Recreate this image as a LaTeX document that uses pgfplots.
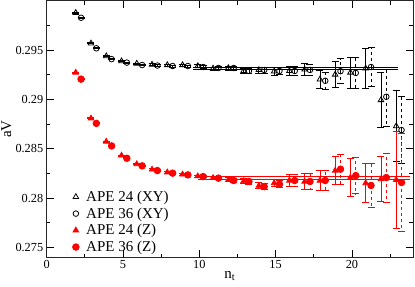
\documentclass[border=0pt]{standalone}
\usepackage{fontspec}
\setmainfont{Liberation Serif}
\usepackage{pgfplots}
\pgfplotsset{compat=1.18}
\usepackage{pgfplotstable}

\pgfplotstableread{
x y e
1.9 0.2988 0.00005
2.9 0.2957 0.00005
3.9 0.2944 0.00005
4.9 0.2939 0.00005
5.9 0.29365 0.00005
6.9 0.29355 0.00008
7.9 0.2935 0.0001
8.9 0.2935 0.0001
9.9 0.2934 0.00012
10.9 0.29315 0.00015
11.9 0.2932 0.0002
12.9 0.2929 0.00025
13.9 0.2930 0.0003
14.9 0.29285 0.0004
15.9 0.2929 0.0005
16.9 0.29305 0.0006
17.9 0.29204 0.00094
18.9 0.29254 0.0013
19.9 0.29274 0.00157
20.9 0.29315 0.0020
21.9 0.28995 0.0028
22.9 0.2873 0.0036
}\triXY

\pgfplotstableread{
x y e
2.25 0.2983 0.00005
3.25 0.2952 0.00005
4.25 0.2941 0.00005
5.25 0.29375 0.00005
6.25 0.2935 0.00005
7.25 0.29345 0.00008
8.25 0.2934 0.0001
9.25 0.2934 0.0001
10.25 0.2933 0.00012
11.25 0.2932 0.00015
12.25 0.2932 0.0002
13.25 0.2929 0.00025
14.25 0.2930 0.0003
15.25 0.2929 0.0004
16.25 0.2929 0.0005
17.25 0.2930 0.0006
18.25 0.2919 0.0009
19.25 0.29288 0.00128
20.25 0.2927 0.0016
21.25 0.2933 0.0020
22.25 0.29028 0.0030
23.25 0.2869 0.0034
}\cirXY

\pgfplotstableread{
x y e
1.9 0.29274 0.00005
2.9 0.28809 0.00005
3.9 0.28573 0.00005
4.9 0.28432 0.00005
5.9 0.28345 0.00005
6.9 0.28290 0.00008
7.9 0.28262 0.0001
8.9 0.28240 0.0001
9.9 0.28222 0.00012
10.9 0.28205 0.00015
11.9 0.28185 0.0002
12.9 0.28172 0.00025
13.9 0.28125 0.0003
14.9 0.28152 0.00035
15.9 0.28178 0.0006
16.9 0.28168 0.0008
17.9 0.28178 0.0010
18.9 0.28279 0.0014
19.9 0.28208 0.0019
20.9 0.28152 0.0020
21.9 0.28192 0.0023
22.9 0.28185 0.0049
}\triZ

\pgfplotstableread{
x y e
2.25 0.29207 0.00005
3.25 0.28758 0.00005
4.25 0.28529 0.00005
5.25 0.28404 0.00005
6.25 0.28327 0.00005
7.25 0.28279 0.00008
8.25 0.28253 0.0001
9.25 0.28235 0.0001
10.25 0.28218 0.00012
11.25 0.28202 0.00015
12.25 0.28178 0.0002
13.25 0.28168 0.00025
14.25 0.28117 0.0003
15.25 0.2814 0.00035
16.25 0.28178 0.0006
17.25 0.28168 0.0008
18.25 0.28178 0.0010
19.25 0.28293 0.0015
20.25 0.28228 0.00185
21.25 0.28128 0.0022
22.25 0.28208 0.0025
23.25 0.28158 0.0050
}\cirZ

\begin{document}
\begin{tikzpicture}
\begin{axis}[
  scale only axis,
  width=366pt, height=256pt,
  xmin=0, xmax=24, ymin=0.274, ymax=0.3,
  xtick={0,5,10,15,20}, minor xtick={2.5,7.5,12.5,17.5,22.5},
  ytick={0.275,0.28,0.285,0.29,0.295},
  yticklabels={0.275,0.28,0.285,0.29,0.295},
  minor ytick={0.2775,0.2825,0.2875,0.2925,0.2975},
  tick align=inside,
  major tick length=7pt, minor tick length=3.5pt,
  tick style={black, line width=0.8pt},
  axis line style={line width=1pt, black!85},
  ticklabel style={font=\fontsize{12.3}{14}\selectfont},
  /pgf/number format/assume math mode=true,
  xlabel={n\textsubscript{t}}, ylabel={aV},
  label style={font=\fontsize{15}{17}\selectfont},
  xlabel style={at={(axis description cs:0.5,-0.082)}, anchor=base},
  ylabel style={at={(axis description cs:-0.087,0.5)}, anchor=south},
  legend style={at={(axis cs:1.68,0.2742)}, anchor=south west, draw=none, fill=none,
    font=\fontsize{15}{17}\selectfont, row sep=0.8pt, column sep=5pt, inner sep=0pt},
  legend cell align=left,
  clip=false,
]
\addplot[black, only marks, mark=triangle, mark size=3.2pt, line width=0.8pt,
  error bars/.cd, y dir=both, y explicit,
  error bar style={solid, line width=0.8pt},
  error mark options={rotate=90, mark size=3.5pt, solid, line width=0.8pt}]
  table[x=x, y=y, y error=e] {\triXY};
\addlegendentry{APE 24 (XY)}
\addplot[black, only marks, mark=o, mark size=2.8pt, line width=0.8pt,
  error bars/.cd, y dir=both, y explicit,
  error bar style={dashed, line width=0.8pt},
  error mark options={rotate=90, mark size=3.5pt, solid, line width=0.8pt}]
  table[x=x, y=y, y error=e] {\cirXY};
\addlegendentry{APE 36 (XY)}
\addplot[red, only marks, mark=triangle*, mark size=3.2pt, line width=0.8pt,
  error bars/.cd, y dir=both, y explicit,
  error bar style={solid, line width=0.8pt},
  error mark options={rotate=90, mark size=3.5pt, solid, line width=0.8pt}]
  table[x=x, y=y, y error=e] {\triZ};
\addlegendentry{APE 24 (Z)}
\addplot[red, only marks, mark=*, mark size=3.3pt, line width=0.8pt,
  error bars/.cd, y dir=both, y explicit,
  error bar style={dashed, line width=0.8pt},
  error mark options={rotate=90, mark size=3.5pt, solid, line width=0.8pt}]
  table[x=x, y=y, y error=e] {\cirZ};
\addlegendentry{APE 36 (Z)}
\addplot[black, line width=0.8pt, forget plot] coordinates {(9.6,0.2933) (23,0.2933)};
\addplot[black, line width=0.8pt, forget plot] coordinates {(9.6,0.2931) (23,0.2931)};
\addplot[red, line width=0.8pt, forget plot] coordinates {(9.9,0.2822) (23.8,0.2822)};
\addplot[red, line width=0.8pt, forget plot] coordinates {(9.9,0.2819) (23.8,0.2819)};
\end{axis}
\pgfresetboundingbox
\path[use as bounding box] ([xshift=-46.7pt,yshift=-29pt]current axis.south west) rectangle ([xshift=2pt,yshift=1pt]current axis.north east);
\end{tikzpicture}
\end{document}
